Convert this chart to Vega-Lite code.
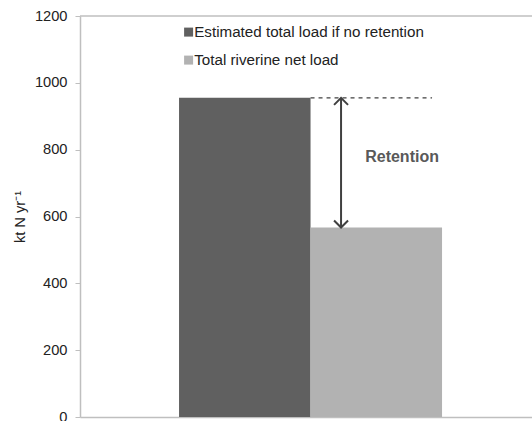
{
  "$schema": "https://vega.github.io/schema/vega-lite/v6.json",
  "width": 452,
  "height": 401,
  "autosize": {"type": "none"},
  "padding": {"left": 80, "top": 16, "right": 0, "bottom": 4},
  "background": "white",
  "config": {
    "font": "Liberation Sans",
    "view": {"stroke": null},
    "axis": {"labelFont": "Liberation Sans", "titleFont": "Liberation Sans"}
  },
  "datasets": {
    "loads": [
      {"series": "Estimated total load if no retention", "value": 955},
      {"series": "Total riverine net load", "value": 567}
    ],
    "top": [{"y": 1200}],
    "dash": [{"u": 1.0, "u2": 1.924, "y": 955}],
    "arrow": [{"u": 1.232, "y": 955, "y2": 567}],
    "heads": [
      {"u": 1.232, "y": 955, "dir": "up"},
      {"u": 1.232, "y": 567, "dir": "down"}
    ],
    "label": [{"u": 1.696, "y": 779, "text": "Retention"}]
  },
  "layer": [
    {
      "data": {"name": "loads"},
      "mark": {"type": "bar"},
      "encoding": {
        "x": {
          "field": "series",
          "type": "nominal",
          "sort": null,
          "scale": {"paddingInner": 0, "paddingOuter": 0.7186, "align": 0.524},
          "axis": {"labels": false, "ticks": false, "title": null, "domainColor": "#bfbfbf", "domainWidth": 1.5}
        },
        "y": {
          "field": "value",
          "type": "quantitative",
          "scale": {"domain": [0, 1200], "nice": false},
          "axis": {
            "values": [0, 200, 400, 600, 800, 1000, 1200],
            "format": "d",
            "grid": false,
            "title": "kt N yr⁻¹",
            "titleFontSize": 14.67,
            "titleFontWeight": "normal",
            "titleColor": "#222222",
            "titlePadding": 7,
            "labelFontSize": 14.67,
            "labelColor": "#222222",
            "labelPadding": 8,
            "tickSize": 5,
            "tickColor": "#bfbfbf",
            "domainColor": "#bfbfbf",
            "domainWidth": 1.5
          }
        },
        "color": {
          "field": "series",
          "type": "nominal",
          "sort": null,
          "scale": {"range": ["#606060", "#b2b2b2"]},
          "legend": {
            "orient": "none",
            "legendX": 101,
            "legendY": 8.5,
            "title": null,
            "padding": 0,
            "symbolType": "square",
            "symbolSize": 81,
            "symbolStrokeWidth": 0,
            "symbolOpacity": 1,
            "labelFontSize": 15.2,
            "labelColor": "#222222",
            "labelOffset": -2,
            "rowPadding": 12,
            "labelLimit": 400
          }
        }
      }
    },
    {
      "data": {"name": "top"},
      "mark": {"type": "rule", "color": "#bfbfbf", "strokeWidth": 1.5},
      "encoding": {"y": {"field": "y", "type": "quantitative"}}
    },
    {
      "data": {"name": "dash"},
      "mark": {"type": "rule", "color": "#404040", "strokeWidth": 1.3, "strokeDash": [4, 4]},
      "encoding": {
        "x": {"field": "u", "type": "quantitative", "scale": {"domain": [-0.753, 2.684], "nice": false, "zero": false}, "axis": null},
        "x2": {"field": "u2"},
        "y": {"field": "y", "type": "quantitative"}
      }
    },
    {
      "data": {"name": "arrow"},
      "mark": {"type": "rule", "color": "#404040", "strokeWidth": 2},
      "encoding": {
        "x": {"field": "u", "type": "quantitative", "scale": {"domain": [-0.753, 2.684], "nice": false, "zero": false}, "axis": null},
        "y": {"field": "y", "type": "quantitative"},
        "y2": {"field": "y2"}
      }
    },
    {
      "data": {"name": "heads"},
      "mark": {"type": "point", "filled": false, "color": "#404040", "strokeWidth": 2, "size": 196, "opacity": 1},
      "encoding": {
        "x": {"field": "u", "type": "quantitative", "scale": {"domain": [-0.753, 2.684], "nice": false, "zero": false}, "axis": null},
        "y": {"field": "y", "type": "quantitative"},
        "shape": {
          "field": "dir",
          "type": "nominal",
          "scale": {"domain": ["up", "down"], "range": ["M -1 1 L 0 0 L 1 1", "M -1 -1 L 0 0 L 1 -1"]},
          "legend": null
        }
      }
    },
    {
      "data": {"name": "label"},
      "mark": {"type": "text", "fontSize": 16, "fontWeight": "bold", "color": "#595959", "align": "center", "baseline": "middle"},
      "encoding": {
        "x": {"field": "u", "type": "quantitative", "scale": {"domain": [-0.753, 2.684], "nice": false, "zero": false}, "axis": null},
        "y": {"field": "y", "type": "quantitative"},
        "text": {"field": "text"}
      }
    }
  ],
  "resolve": {"scale": {"x": "independent"}}
}
